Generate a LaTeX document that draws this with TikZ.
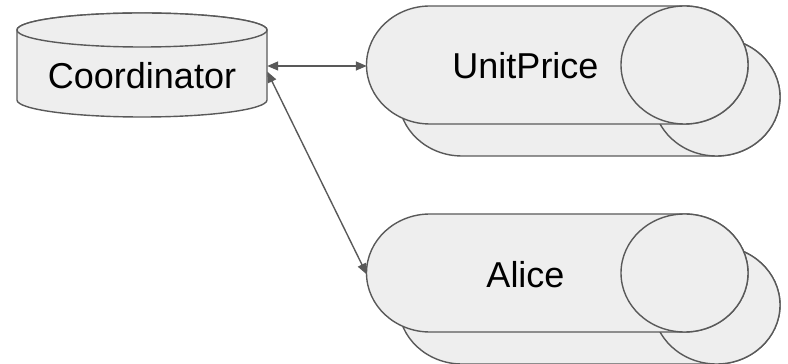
\documentclass[tikz,border=0pt]{standalone}
\usepackage{fontspec}
\setmainfont{Liberation Sans}
\usetikzlibrary{arrows.meta}
\definecolor{shapefill}{HTML}{EEEEEE}
\definecolor{edgegray}{HTML}{595959}

% horizontal cylinder: #1 = x of left end centre, #2 = y of axis
\newcommand\drawhcyl[2]{%
  \filldraw[shapebody] (#1+254.5,#2+59) -- (#1,#2+59)
    arc[start angle=90,end angle=270,x radius=63.5pt,y radius=59pt]
    -- (#1+254.5,#2-59)
    arc[start angle=-90,end angle=90,x radius=63.5pt,y radius=59pt] -- cycle;
  \draw[shapebody] (#1+254.5,#2) ellipse[x radius=63.5pt,y radius=59pt];}

\begin{document}
\begin{tikzpicture}[x=1pt,y=1pt,
  shapebody/.style={fill=shapefill,draw=edgegray,line width=1.4pt},
  labeltext/.style={inner sep=0pt,font=\fontsize{36}{40}\selectfont},
  conn/.style={draw=edgegray,line width=1.4pt,
    {Triangle[length=11pt,width=9pt]}-{Triangle[length=11pt,width=9pt]}}]
\useasboundingbox (0,0) rectangle (788,364);

% Coordinator: upright cylinder
\filldraw[shapebody] (17,334) -- (17,264)
  arc[start angle=180,end angle=360,x radius=125pt,y radius=17pt]
  -- (267,334)
  arc[start angle=0,end angle=180,x radius=125pt,y radius=17pt] -- cycle;
\draw[shapebody] (142,334) ellipse[x radius=125pt,y radius=17pt];

% UnitPrice: stacked horizontal cylinders
\drawhcyl{462}{267}
\drawhcyl{430}{299}

% Alice: stacked horizontal cylinders
\drawhcyl{462}{59}
\drawhcyl{430}{91}

\node[labeltext,minimum width=250pt] (coordinator) at (142,288.5) {Coordinator};
\node[labeltext,minimum width=317pt] (unitprice) at (525.5,298) {UnitPrice};
\node[labeltext,minimum width=317pt] (alice) at (525.5,89.5) {Alice};

\draw[conn] (coordinator.east |- unitprice.west) -- (unitprice.west);
\draw[conn] ([yshift=4pt]coordinator.east) -- (alice.west);
\end{tikzpicture}
\end{document}
